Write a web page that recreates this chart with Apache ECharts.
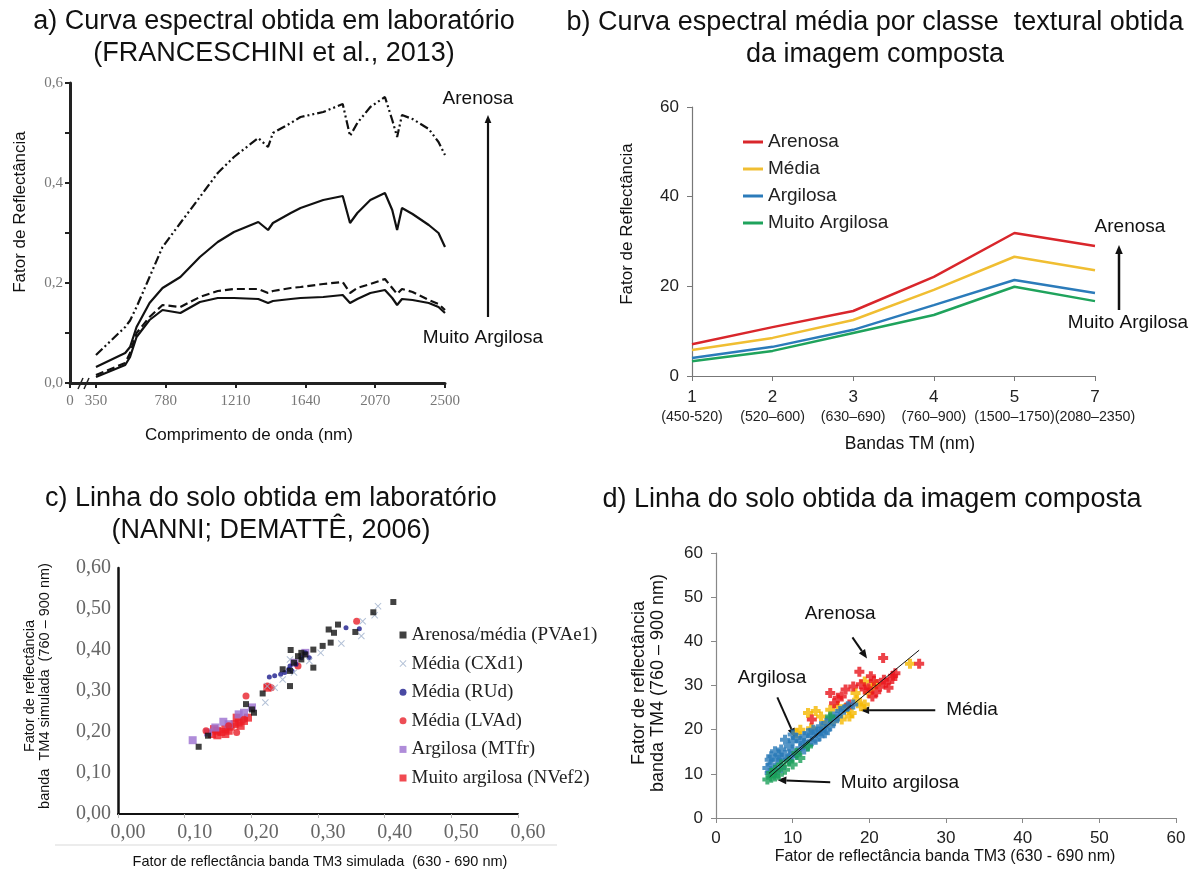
<!DOCTYPE html>
<html>
<head>
<meta charset="utf-8">
<script src="https://cdn.jsdelivr.net/npm/echarts@6/dist/echarts.min.js"></script>
<style>
  html, body { margin: 0; padding: 0; background: #fff; }
  #chart { width: 1199px; height: 870px; }
</style>
</head>
<body>
<div id="chart"></div>
<script>
// ---- a) laboratory reflectance spectra (wavelength in nm, reflectance factor) ----
const wavelengths = [350, 530, 560, 600, 680, 760, 870, 990, 1100, 1200, 1350, 1410, 1440, 1550,
  1610, 1750, 1870, 1915, 1960, 2040, 2130, 2175, 2205, 2235, 2300, 2400, 2460, 2500];
const labArenosa = [0.056, 0.112, 0.125, 0.152, 0.212, 0.272, 0.320, 0.372, 0.420, 0.452, 0.490, 0.472, 0.500, 0.520,
  0.532, 0.542, 0.558, 0.494, 0.520, 0.552, 0.572, 0.526, 0.492, 0.536, 0.528, 0.508, 0.482, 0.456];
const labMedia = [0.032, 0.060, 0.072, 0.112, 0.160, 0.190, 0.212, 0.252, 0.282, 0.302, 0.322, 0.306, 0.320, 0.340,
  0.350, 0.366, 0.374, 0.320, 0.340, 0.366, 0.380, 0.346, 0.306, 0.350, 0.338, 0.316, 0.300, 0.272];
const labArgilosa = [0.016, 0.040, 0.060, 0.100, 0.132, 0.156, 0.152, 0.172, 0.184, 0.188, 0.188, 0.180, 0.184, 0.190,
  0.192, 0.198, 0.202, 0.180, 0.190, 0.198, 0.208, 0.190, 0.178, 0.188, 0.182, 0.166, 0.158, 0.146];
const labMuitoArgilosa = [0.012, 0.036, 0.052, 0.092, 0.126, 0.146, 0.140, 0.162, 0.170, 0.170, 0.168, 0.160, 0.164, 0.168,
  0.170, 0.172, 0.176, 0.160, 0.168, 0.180, 0.186, 0.170, 0.156, 0.168, 0.166, 0.160, 0.152, 0.140];
const labTicks = [350, 780, 1210, 1640, 2070, 2500];

// ---- b) mean spectra per texture class from the composite image ----
const bands = ['1', '2', '3', '4', '5', '7'];
const bandRanges = ['(450-520)', '(520–600)', '(630–690)', '(760–900)', '(1500–1750)', '(2080–2350)'];
const imgArenosa = [7.1, 10.9, 14.5, 22.1, 31.9, 29.0];
const imgMedia = [5.8, 8.5, 12.5, 19.2, 26.6, 23.6];
const imgArgilosa = [4.0, 6.5, 10.3, 15.8, 21.4, 18.5];
const imgMuitoArgilosa = [3.3, 5.6, 9.6, 13.6, 19.9, 16.7];

// ---- c) laboratory soil line (TM3, TM4 simulated reflectance) ----
const cPVAe1 = [[0.413,0.517],[0.383,0.492],[0.330,0.462],[0.316,0.450],[0.324,0.442],[0.356,0.444],[0.319,0.418],
  [0.307,0.410],[0.293,0.401],[0.259,0.400],[0.281,0.389],[0.275,0.377],[0.264,0.369],[0.247,0.353],[0.258,0.349],
  [0.293,0.357],[0.258,0.312],[0.217,0.294],[0.192,0.268],[0.201,0.255],[0.135,0.191],[0.121,0.164],[0.204,0.247],
  [0.270,0.385],[0.275,0.393]];
const cCXd1 = [[0.390,0.507],[0.365,0.434],[0.335,0.416],[0.304,0.393],[0.264,0.345],[0.247,0.328],[0.221,0.272],
  [0.235,0.308],[0.287,0.373],[0.367,0.470],[0.258,0.377],[0.224,0.312],[0.385,0.485]];
const cRUd = [[0.342,0.454],[0.362,0.452],[0.258,0.361],[0.227,0.334],[0.235,0.337],[0.250,0.345],[0.256,0.353],
  [0.267,0.365],[0.281,0.393],[0.275,0.381],[0.261,0.349],[0.287,0.381],[0.244,0.341]];
const cLVAd = [[0.192,0.288],[0.224,0.312],[0.230,0.308],[0.178,0.199],[0.166,0.215],[0.189,0.231],[0.270,0.361],
  [0.132,0.203],[0.358,0.470]];
const cMTfr = [[0.112,0.180],[0.135,0.199],[0.146,0.211],[0.158,0.225],[0.181,0.243],[0.201,0.260],[0.281,0.393],
  [0.264,0.369],[0.189,0.247],[0.166,0.219]];
const cNVef2 = [[0.141,0.195],[0.149,0.192],[0.155,0.200],[0.161,0.207],[0.169,0.213],[0.175,0.219],[0.181,0.223],
  [0.189,0.227],[0.195,0.235],[0.149,0.203],[0.161,0.195],[0.166,0.203],[0.184,0.215],[0.144,0.207],[0.178,0.235],
  [0.224,0.308]];

// ---- d) soil line from the composite image (TM3, TM4 reflectance) ----
const dArenosa = [[21.8,36.2],[26.5,34.9],[18.7,33.1],[20.2,32.1],[23.4,32.8],[23.1,32.2],[21.9,31.3],[22.5,29.5],
  [21.4,29.7],[20.9,28.5],[22.2,30.6],[17.9,29.8],[16.9,29.1],[15.9,27.2],[15.4,26.0],[18.9,30.3],[19.4,29.1],
  [12.5,22.3],[14.9,28.3],[16.4,27.5],[20.4,27.5],[17.4,25.7],[19.9,29.4],[23.0,31.5],[20.6,31.0]];
const dMedia = [[25.3,34.9],[19.4,30.9],[19.9,28.3],[20.4,29.8],[18.4,26.8],[18.9,25.3],[19.4,25.7],[16.9,24.9],
  [15.9,25.3],[17.4,23.0],[16.4,22.3],[15.2,21.9],[12.0,23.8],[13.0,24.2],[13.7,23.0],[11.0,20.0],[14.9,24.5],
  [18.2,28.3],[17.7,23.8],[20.9,30.2],[14.2,21.1],[12.4,20.3],[10.5,19.2]];
const dArgilosa = [[6.7,11.3],[7.2,12.1],[8.0,13.2],[8.5,15.5],[9.0,14.3],[9.5,16.2],[10.0,17.4],[10.5,18.1],
  [11.0,17.4],[11.5,18.5],[12.0,19.2],[12.7,20.0],[13.2,19.6],[13.7,20.8],[14.4,21.5],[14.9,22.6],[15.4,23.0],
  [16.2,24.2],[17.2,25.3],[17.9,25.7],[8.5,13.2],[7.7,10.9],[9.5,13.2],[10.5,14.3],[11.5,15.5],[12.5,17.4],
  [13.5,18.5],[14.4,20.0],[14.9,20.8],[10.0,15.1],[11.0,15.8],[12.0,16.6],[13.0,17.7],[8.2,14.3],[9.0,17.7],
  [7.7,15.1],[7.2,14.0],[10.0,18.9],[15.9,23.0],[16.7,24.5],[13.7,19.6],[14.2,19.2],[7.0,13.2],[8.5,11.3],
  [9.7,14.0],[11.5,17.0],[12.5,18.9],[15.4,21.9],[7.7,10.2],[7.0,10.2]];
const dMuitoArgilosa = [[6.7,8.7],[7.2,9.1],[7.7,9.4],[8.2,9.8],[7.2,10.2],[9.0,10.9],[10.0,12.1],[11.0,13.6],
  [9.5,12.8],[7.7,10.9],[10.5,14.7],[12.0,16.2],[14.9,23.0],[8.5,12.1]];
const dSoilLine = [[6.9, 10.1], [26.5, 38.0]];
const dSoilLineClay = [[7.0, 9.3], [17.6, 25.6]];

// ---- drawing ----
const SANS = '"Liberation Sans", Arial, sans-serif';
const SERIF = '"Liberation Serif", "Times New Roman", serif';
const chart = echarts.init(document.getElementById('chart'), null, { renderer: 'canvas' });

const commaFmt = d => v => v.toFixed(d).replace('.', ',');
const plusSymbol = 'path://M3,0H7V3H10V7H7V10H3V7H0V3H3Z';
const crossSymbol = 'path://M1,0L5,4L9,0L10,1L6,5L10,9L9,10L5,6L1,10L0,9L4,5L0,1Z';

function labLine(name, values, type) {
  return {
    name, type: 'line', xAxisIndex: 0, yAxisIndex: 0, symbol: 'none', silent: true,
    data: wavelengths.map((w, i) => [w, values[i]]),
    lineStyle: { color: '#111', width: 2.2, type }
  };
}
function bandLine(name, values, color) {
  return {
    name, type: 'line', xAxisIndex: 1, yAxisIndex: 1, symbol: 'none', data: values,
    lineStyle: { color, width: 2.5 }, itemStyle: { color }
  };
}
function labScatter(name, data, symbol, size, color) {
  return { name, type: 'scatter', xAxisIndex: 2, yAxisIndex: 2, data, symbol, symbolSize: size, itemStyle: { color } };
}
function imgScatter(name, data, color) {
  return { name, type: 'scatter', xAxisIndex: 3, yAxisIndex: 3, data, symbol: plusSymbol, symbolSize: 10, itemStyle: { color } };
}
function fitLine(name, data) {
  return { name, type: 'line', xAxisIndex: 3, yAxisIndex: 3, data, symbol: 'none', lineStyle: { color: '#111', width: 1 }, z: 5 };
}

const option = {
  animation: false,
  backgroundColor: '#fff',
  grid: [
    { left: 70, top: 83, width: 375, height: 300 },
    { left: 692, top: 107, width: 403, height: 269 },
    { left: 118, top: 568, width: 400, height: 246 },
    { left: 716, top: 553, width: 460, height: 265 }
  ],
  xAxis: [
    {
      gridIndex: 0, type: 'value', min: 190, max: 2500, splitLine: { show: false },
      axisLine: { lineStyle: { color: '#222', width: 3 } },
      axisTick: { customValues: [190].concat(labTicks), length: 5, lineStyle: { color: '#222', width: 2 } },
      axisLabel: {
        customValues: [190].concat(labTicks), formatter: v => (v === 190 ? '0' : String(v)),
        margin: 11, fontFamily: SERIF, fontSize: 15, color: '#777'
      }
    },
    {
      gridIndex: 1, type: 'category', data: bands, boundaryGap: false,
      axisLine: { lineStyle: { color: '#777', width: 1.2 } },
      axisTick: { show: true, length: 5, lineStyle: { color: '#777' } },
      axisLabel: {
        interval: 0, margin: 11,
        formatter: (v, i) => '{n|' + v + '}\n{r|' + bandRanges[i] + '}',
        rich: {
          n: { fontFamily: SANS, fontSize: 17, lineHeight: 20, color: '#222' },
          r: { fontFamily: SANS, fontSize: 14.2, lineHeight: 20, color: '#222' }
        }
      }
    },
    {
      gridIndex: 2, type: 'value', min: 0, max: 0.6, interval: 0.1, splitLine: { show: false },
      axisLine: { lineStyle: { color: '#111', width: 2 } },
      axisTick: { show: true, length: 4, lineStyle: { color: '#bbb' } },
      axisLabel: { formatter: commaFmt(2), fontFamily: SERIF, fontSize: 20, color: '#666', margin: 9, padding: [0, 0, 0, 20] }
    },
    {
      gridIndex: 3, type: 'value', min: 0, max: 60, interval: 10, splitLine: { show: false },
      axisLine: { lineStyle: { color: '#888', width: 1.2 } },
      axisTick: { show: true, length: 5, lineStyle: { color: '#888' } },
      axisLabel: { fontFamily: SANS, fontSize: 17, color: '#222', margin: 12 }
    }
  ],
  yAxis: [
    {
      gridIndex: 0, type: 'value', min: 0, max: 0.6, interval: 0.1, splitLine: { show: false },
      axisLine: { show: true, lineStyle: { color: '#222', width: 3 } },
      axisTick: { show: true, length: 5, lineStyle: { color: '#222', width: 2 } },
      axisLabel: {
        formatter: v => (Math.round(v * 10) % 2 === 0 ? commaFmt(1)(v) : ''),
        margin: 7, fontFamily: SERIF, fontSize: 15, color: '#777'
      }
    },
    {
      gridIndex: 1, type: 'value', min: 0, max: 60, interval: 20, splitLine: { show: false },
      axisLine: { show: true, lineStyle: { color: '#777', width: 1.2 } },
      axisTick: { show: true, length: 5, lineStyle: { color: '#777' } },
      axisLabel: { fontFamily: SANS, fontSize: 17, color: '#222', margin: 13 }
    },
    {
      gridIndex: 2, type: 'value', min: 0, max: 0.6, interval: 0.1, splitLine: { show: false },
      axisLine: { show: true, lineStyle: { color: '#111', width: 2.5 } },
      axisTick: { show: false },
      axisLabel: { formatter: commaFmt(2), fontFamily: SERIF, fontSize: 20, color: '#666', margin: 7 }
    },
    {
      gridIndex: 3, type: 'value', min: 0, max: 60, interval: 10, splitLine: { show: false },
      axisLine: { show: true, lineStyle: { color: '#888', width: 1.2 } },
      axisTick: { show: true, length: 5, lineStyle: { color: '#888' } },
      axisLabel: { fontFamily: SANS, fontSize: 17, color: '#222', margin: 13 }
    }
  ],
  legend: [
    {
      data: ['Arenosa', 'Média', 'Argilosa', 'Muito Argilosa'],
      orient: 'vertical', left: 743, top: 128.5, padding: 0, itemGap: 0,
      itemWidth: 20, itemHeight: 3, icon: 'rect', selectedMode: false,
      textStyle: { fontFamily: SANS, fontSize: 19, lineHeight: 27, color: '#222' }
    },
    {
      data: ['Arenosa/média (PVAe1)', 'Média (CXd1)', 'Média (RUd)', 'Média (LVAd)', 'Argilosa (MTfr)', 'Muito argilosa (NVef2)'],
      orient: 'vertical', left: 399.5, top: 624, padding: 0, itemGap: 6.6,
      itemWidth: 7, itemHeight: 7, selectedMode: false,
      textStyle: { fontFamily: SERIF, fontSize: 19, lineHeight: 22, color: '#222' }
    }
  ],
  series: [
    labLine('Arenosa (laboratório)', labArenosa, [9, 3, 2, 3, 2, 3]),
    labLine('Média (laboratório)', labMedia, 'solid'),
    labLine('Argilosa (laboratório)', labArgilosa, [8, 4]),
    labLine('Muito Argilosa (laboratório)', labMuitoArgilosa, 'solid'),

    bandLine('Arenosa', imgArenosa, '#d9262b'),
    bandLine('Média', imgMedia, '#f0be32'),
    bandLine('Argilosa', imgArgilosa, '#2b7bba'),
    bandLine('Muito Argilosa', imgMuitoArgilosa, '#1fa35c'),

    labScatter('Muito argilosa (NVef2)', cNVef2, 'rect', 8, '#ee1d25'),
    labScatter('Argilosa (MTfr)', cMTfr, 'rect', 8, '#9b6fd0'),
    labScatter('Média (LVAd)', cLVAd, 'circle', 7, '#e8202a'),
    labScatter('Média (RUd)', cRUd, 'circle', 5, '#1c1c8c'),
    labScatter('Média (CXd1)', cCXd1, crossSymbol, 7, '#9fb0cc'),
    labScatter('Arenosa/média (PVAe1)', cPVAe1, 'rect', 6, '#111'),

    imgScatter('Média (imagem)', dMedia, '#f5b800'),
    imgScatter('Arenosa (imagem)', dArenosa, '#e8141c'),
    imgScatter('Argilosa (imagem)', dArgilosa, '#2a7ab8'),
    imgScatter('Muito argilosa (imagem)', dMuitoArgilosa, '#1ca05a'),
    fitLine('Linha do solo', dSoilLine),
    fitLine('Linha do solo (argilosa)', dSoilLineClay)
  ]
};
chart.setOption(option);

// ---- titles, axis titles and annotations ----
let gid = 0;
function text(x, y, str, size, extra) {
  return Object.assign({
    type: 'text', id: 't' + (gid++), x, y, silent: true,
    style: Object.assign({
      text: str, fontFamily: SANS, fontSize: size, fill: '#111',
      align: 'center', verticalAlign: 'middle'
    }, (extra && extra.style) || {})
  }, extra && extra.rotation ? { rotation: extra.rotation } : {});
}
function arrow(x1, y1, x2, y2, w, head) {
  const ang = Math.atan2(y2 - y1, x2 - x1);
  const bx = x2 - head * Math.cos(ang), by = y2 - head * Math.sin(ang);
  const px = -Math.sin(ang) * head * 0.42, py = Math.cos(ang) * head * 0.42;
  return [
    { type: 'line', id: 'l' + (gid++), silent: true, shape: { x1, y1, x2: bx, y2: by }, style: { stroke: '#111', lineWidth: w } },
    { type: 'polygon', id: 'p' + (gid++), silent: true, shape: { points: [[x2, y2], [bx + px, by + py], [bx - px, by - py]] }, style: { fill: '#111' } }
  ];
}
const up = Math.PI / 2;
const px = (pt) => chart.convertToPixel({ gridIndex: 3 }, pt);

let graphics = [
  // panel titles
  text(274, 38, 'a) Curva espectral obtida em laboratório\n(FRANCESCHINI et al., 2013)', 27, { style: { lineHeight: 32 } }),
  text(875, 39, 'b) Curva espectral média por classe  textural obtida\nda imagem composta', 27, { style: { lineHeight: 32 } }),
  text(271, 515, 'c) Linha do solo obtida em laboratório\n(NANNI; DEMATTÊ, 2006)', 27, { style: { lineHeight: 32 } }),
  text(872, 500, 'd) Linha do solo obtida da imagem composta', 27),

  // axis titles
  text(20, 212, 'Fator de Reflectância', 17, { rotation: up }),
  text(249, 435, 'Comprimento de onda (nm)', 17),
  text(627, 224, 'Fator de Reflectância', 17, { rotation: up }),
  text(910, 444, 'Bandas TM (nm)', 17.5),
  text(37, 686, 'Fator de reflectância\nbanda  TM4 simulada  (760 – 900 nm)', 14.5, { rotation: up, style: { lineHeight: 15 } }),
  text(320, 862, 'Fator de reflectância banda TM3 simulada  (630 - 690 nm)', 14.5),
  text(649, 683, 'Fator de reflectância\nbanda TM4 (760 – 900 nm)', 18, { rotation: up, style: { lineHeight: 19 } }),
  text(945, 857, 'Fator de reflectância banda TM3 (630 - 690 nm)', 16),

  // a) axis break and class gradient
  { type: 'line', id: 'br1', silent: true, shape: { x1: 78, y1: 389, x2: 83, y2: 378 }, style: { stroke: '#222', lineWidth: 1.5 } },
  { type: 'line', id: 'br2', silent: true, shape: { x1: 84, y1: 389, x2: 89, y2: 378 }, style: { stroke: '#222', lineWidth: 1.5 } },
  text(478, 99, 'Arenosa', 19),
  text(483, 338, 'Muito Argilosa', 19),
  ...arrow(488, 317, 488, 115, 2.2, 8),

  // b) class gradient
  text(1130, 227, 'Arenosa', 19),
  text(1128, 323, 'Muito Argilosa', 19),
  ...arrow(1119, 310, 1119, 245, 2.5, 9),

  // c) separator under the x labels
  { type: 'line', id: 'sep', silent: true, shape: { x1: 55, y1: 845, x2: 557, y2: 845 }, style: { stroke: '#ececec', lineWidth: 2 } }
];

// d) class annotations placed in data coordinates
const dNotes = [
  { label: 'Arenosa', at: [16.2, 46.2], from: [17.8, 40.9], to: [19.7, 36.1] },
  { label: 'Argilosa', at: [7.3, 31.7], from: [8.0, 27.3], to: [10.3, 18.3] },
  { label: 'Média', at: [33.4, 24.5], from: [28.6, 24.4], to: [18.8, 24.4] },
  { label: 'Muito argilosa', at: [24.0, 7.9], from: [14.9, 8.1], to: [8.0, 8.6] }
];
dNotes.forEach(n => {
  const a = px(n.at), f = px(n.from), t = px(n.to);
  graphics.push(text(a[0], a[1], n.label, 19));
  graphics = graphics.concat(arrow(f[0], f[1], t[0], t[1], 2, 9));
});

chart.setOption({ graphic: graphics });
</script>
</body>
</html>
